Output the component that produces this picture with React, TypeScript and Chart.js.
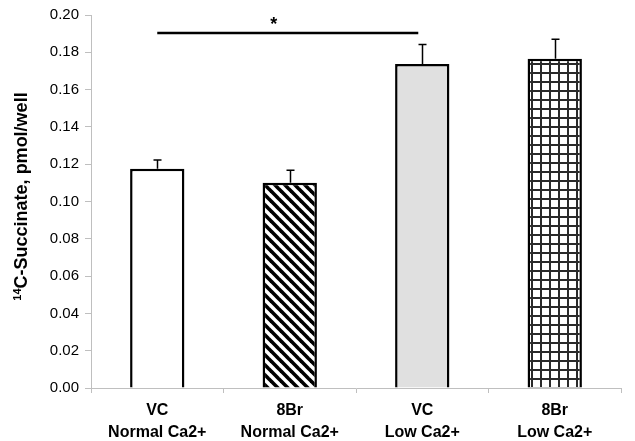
import React, { useEffect, useRef } from "react";
import { Chart, registerables } from "chart.js";

Chart.register(...registerables);

// ---- data ----
const categories: string[][] = [
  ["VC", "Normal Ca2+"],
  ["8Br", "Normal Ca2+"],
  ["VC", "Low Ca2+"],
  ["8Br", "Low Ca2+"],
];
const values: number[] = [0.1175, 0.110, 0.1737, 0.1765];
const errors: number[] = [0.0048, 0.0068, 0.0105, 0.0105];
const yMin = 0;
const yMax = 0.2;
const yStep = 0.02;
const yTitleSup = "14";
const yTitleMain = "C-Succinate, pmol/well";
const sigFrom = 0;
const sigTo = 1.97;
const sigLevel = 0.1904;
const sigLabel = "*";
const sigLabelAt = 0.88;

const FONT = "'Liberation Sans', Arial, sans-serif";

function diagonalPattern(ctx: CanvasRenderingContext2D) {
  const s = 10;
  const c = document.createElement("canvas");
  c.width = s;
  c.height = s;
  const g = c.getContext("2d")!;
  g.fillStyle = "#ffffff";
  g.fillRect(0, 0, s, s);
  g.strokeStyle = "#000000";
  g.lineWidth = 3.6;
  for (const k of [-1, 0, 1]) {
    g.beginPath();
    g.moveTo(-s, -s + k * s);
    g.lineTo(2 * s, 2 * s + k * s);
    g.stroke();
  }
  return ctx.createPattern(c, "repeat")!;
}

function gridPattern(ctx: CanvasRenderingContext2D) {
  const s = 9;
  const c = document.createElement("canvas");
  c.width = s;
  c.height = s;
  const g = c.getContext("2d")!;
  g.fillStyle = "#ffffff";
  g.fillRect(0, 0, s, s);
  g.fillStyle = "#2a2a2a";
  g.fillRect(0, 0, 2, s);
  g.fillRect(0, 0, s, 2);
  return ctx.createPattern(c, "repeat")!;
}

const errorBarPlugin = {
  id: "errorBars",
  afterDatasetsDraw(chart: any) {
    const ctx = chart.ctx as CanvasRenderingContext2D;
    const meta = chart.getDatasetMeta(0);
    const y = chart.scales.y;
    ctx.save();
    ctx.strokeStyle = "#000";
    ctx.lineWidth = 1.5;
    meta.data.forEach((el: any, i: number) => {
      const top = y.getPixelForValue(values[i] + errors[i]);
      const x = Math.round(el.x) + 0.5;
      ctx.beginPath();
      ctx.moveTo(x, el.y);
      ctx.lineTo(x, top);
      ctx.moveTo(x - 4, top);
      ctx.lineTo(x + 4, top);
      ctx.stroke();
    });
    ctx.restore();
  },
};

const annotationPlugin = {
  id: "annot",
  afterDraw(chart: any) {
    const ctx = chart.ctx as CanvasRenderingContext2D;
    const xs = chart.scales.x;
    const ys = chart.scales.y;
    const ca = chart.chartArea;
    ctx.save();
    // significance line
    const yl = ys.getPixelForValue(sigLevel);
    ctx.strokeStyle = "#000";
    ctx.lineWidth = 2.5;
    ctx.beginPath();
    ctx.moveTo(xs.getPixelForValue(sigFrom), yl);
    ctx.lineTo(xs.getPixelForValue(sigTo), yl);
    ctx.stroke();
    ctx.fillStyle = "#000";
    ctx.font = `bold 18px ${FONT}`;
    ctx.textAlign = "center";
    ctx.textBaseline = "alphabetic";
    ctx.fillText(sigLabel, xs.getPixelForValue(sigLabelAt), yl - 3);

    // y axis title with superscript
    const cx = 22;
    const cy = (ca.top + ca.bottom) / 2 - 5;
    ctx.translate(cx, cy);
    ctx.rotate(-Math.PI / 2);
    ctx.textAlign = "left";
    ctx.textBaseline = "middle";
    ctx.font = `bold 11px ${FONT}`;
    const wSup = ctx.measureText(yTitleSup).width;
    ctx.font = `bold 18px ${FONT}`;
    const wMain = ctx.measureText(yTitleMain).width;
    const start = -(wSup + wMain) / 2;
    ctx.font = `bold 11px ${FONT}`;
    ctx.fillText(yTitleSup, start, -4);
    ctx.font = `bold 18px ${FONT}`;
    ctx.fillText(yTitleMain, start + wSup, 0);
    ctx.restore();
  },
};

export default function App() {
  const ref = useRef<HTMLCanvasElement>(null);
  useEffect(() => {
    const canvas = ref.current!;
    const ctx = canvas.getContext("2d")!;
    const fills = ["#ffffff", diagonalPattern(ctx), "#e0e0e0", gridPattern(ctx)];
    const chart = new Chart(canvas, {
      type: "bar",
      data: {
        labels: categories,
        datasets: [
          {
            data: values,
            backgroundColor: fills as any,
            borderColor: "#000",
            borderWidth: 2.5,
            categoryPercentage: 1,
            barPercentage: 0.41,
          },
        ],
      },
      options: {
        responsive: false,
        animation: false,
        layout: { padding: { left: 0, right: 14, top: 15, bottom: 0 } },
        plugins: { legend: { display: false }, tooltip: { enabled: false } },
        scales: {
          x: {
            type: "category",
            offset: true,
            grid: {
              offset: true,
              drawOnChartArea: false,
              drawTicks: true,
              tickLength: 5,
              color: "#bfbfbf",
            },
            border: { color: "#bfbfbf", width: 1 },
            ticks: {
              color: "#000",
              font: { family: FONT, size: 16, weight: "bold", lineHeight: 1.375 },
              padding: 7,
              maxRotation: 0,
              autoSkip: false,
            },
            afterFit(s: any) {
              s.height = 53;
            },
          },
          y: {
            min: yMin,
            max: yMax,
            grid: {
              drawOnChartArea: false,
              drawTicks: true,
              tickLength: 6,
              color: "#bfbfbf",
            },
            border: { color: "#bfbfbf", width: 1 },
            ticks: {
              stepSize: yStep,
              color: "#000",
              font: { family: FONT, size: 15 },
              padding: 6,
              callback: (v: any) => Number(v).toFixed(2),
            },
            afterFit(s: any) {
              s.width = 91;
            },
          },
        },
      },
      plugins: [errorBarPlugin, annotationPlugin],
    });
    return () => chart.destroy();
  }, []);
  return (
    <div style={{ position: "fixed", left: 0, top: 0, width: 635, height: 441, background: "#fff" }}>
      <canvas ref={ref} width={635} height={441} />
    </div>
  );
}
